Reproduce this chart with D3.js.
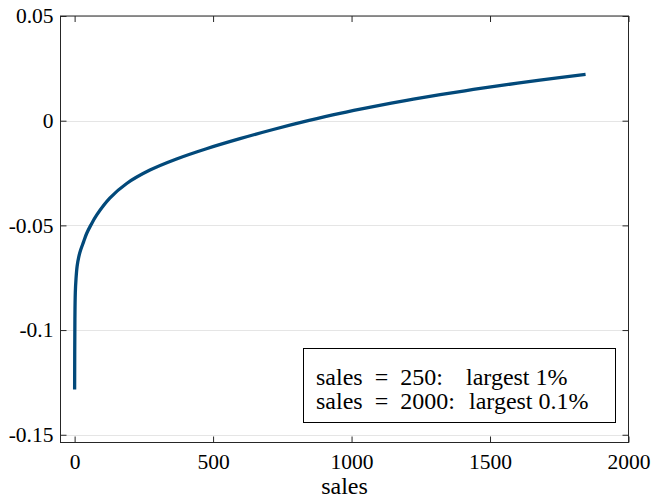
<!DOCTYPE html>
<html>
<head>
<meta charset="utf-8">
<script src="https://cdn.jsdelivr.net/npm/d3@7"></script>
<style>
  html, body { margin: 0; padding: 0; background: #fff; }
  svg { display: block; }
  text { font-family: "Liberation Serif", "Times New Roman", serif; fill: #000; }
</style>
</head>
<body>
<svg id="chart" width="653" height="499"></svg>
<script>
// Sales level vs. effect (curve sampled along the sales axis)
const sales  = [0, 1, 2.5, 5, 9, 15, 22, 32, 43, 58, 80, 127, 188, 272, 368, 476, 597, 717, 843, 958, 1078, 1199, 1320, 1440, 1560, 1680, 1845];
const effect = [-0.1284, -0.0950, -0.0820, -0.0755, -0.0695, -0.0650, -0.0617, -0.0580, -0.0540, -0.0500, -0.0450, -0.0370, -0.0300, -0.0236, -0.0183, -0.0134, -0.0086, -0.0042, 0.0000, 0.0035, 0.0067, 0.0097, 0.0124, 0.0149, 0.0172, 0.0194, 0.0221];

const xTicks = [0, 500, 1000, 1500, 2000];
const yTicks = [0.05, 0, -0.05, -0.1, -0.15];
const legendLines = [
  ["sales = 250:", "largest 1%"],
  ["sales = 2000:", "largest 0.1%"]
];
const xLabel = "sales";

const svg = d3.select("#chart");
const box = { left: 60.5, top: 16, right: 628.5, bottom: 442.5 };
const tickFont = 21.5;
const labelFont = 24;
const noteFont = 24;

const x = d3.scaleLinear().domain([-51, 2000]).range([box.left, box.right]);
const y = d3.scaleLinear().domain([-0.1537, 0.05]).range([box.bottom, box.top]);

const fmt = d => d === 0 ? "0" : String(d);

// horizontal grid
svg.append("g")
  .selectAll("line")
  .data(yTicks)
  .join("line")
  .attr("x1", box.left).attr("x2", box.right)
  .attr("y1", d => Math.round(y(d)) + 0.5).attr("y2", d => Math.round(y(d)) + 0.5)
  .attr("stroke", "#e5e5e5").attr("stroke-width", 1);

// axes with inward ticks
const axisColor = "#262626";
const styleAxis = g => {
  g.attr("font-family", null).attr("font-size", null);
  g.select(".domain").remove();
  g.selectAll(".tick line").attr("stroke", axisColor);
  g.selectAll("text").attr("font-size", tickFont).attr("fill", "#000");
};

svg.append("g")
  .attr("transform", `translate(0,${box.bottom})`)
  .call(d3.axisBottom(x).tickValues(xTicks).tickFormat(fmt).tickSize(-6).tickSizeOuter(0).tickPadding(11))
  .call(styleAxis);
svg.append("g")
  .attr("transform", `translate(0,${box.top})`)
  .call(d3.axisTop(x).tickValues(xTicks).tickFormat("").tickSize(-6).tickSizeOuter(0))
  .call(styleAxis);
svg.append("g")
  .attr("transform", `translate(${box.left},0)`)
  .call(d3.axisLeft(y).tickValues(yTicks).tickFormat(fmt).tickSize(-6).tickSizeOuter(0).tickPadding(7))
  .call(styleAxis);
svg.append("g")
  .attr("transform", `translate(${box.right},0)`)
  .call(d3.axisRight(y).tickValues(yTicks).tickFormat("").tickSize(-6).tickSizeOuter(0))
  .call(styleAxis);

// axes box
svg.append("rect")
  .attr("x", box.left).attr("y", box.top)
  .attr("width", box.right - box.left).attr("height", box.bottom - box.top)
  .attr("fill", "none").attr("stroke", axisColor).attr("stroke-width", 1);

// curve
const line = d3.line()
  .x((d, i) => x(sales[i]))
  .y((d, i) => y(effect[i]))
  .curve(d3.curveCatmullRom.alpha(0.5));
svg.append("path")
  .datum(sales)
  .attr("d", line)
  .attr("fill", "none")
  .attr("stroke", "#02497a")
  .attr("stroke-width", 3.3)
  .attr("stroke-linejoin", "round");

// x label
svg.append("text")
  .attr("x", (box.left + box.right) / 2)
  .attr("y", 494)
  .attr("text-anchor", "middle")
  .attr("font-size", labelFont)
  .text(xLabel);

// annotation box
const lg = svg.append("g");
lg.append("rect")
  .attr("x", 303.5).attr("y", 348.5)
  .attr("width", 312).attr("height", 74)
  .attr("fill", "#fff").attr("stroke", "#000").attr("stroke-width", 1);
legendLines.forEach((pair, i) => {
  const t = lg.append("text")
    .attr("y", 385 + i * 24)
    .attr("font-size", noteFont);
  t.append("tspan").attr("x", 316).attr("word-spacing", 6).text(pair[0]);
  t.append("tspan").attr("x", 466 + i * 3).attr("word-spacing", 0).text(pair[1]);
});
</script>
</body>
</html>
